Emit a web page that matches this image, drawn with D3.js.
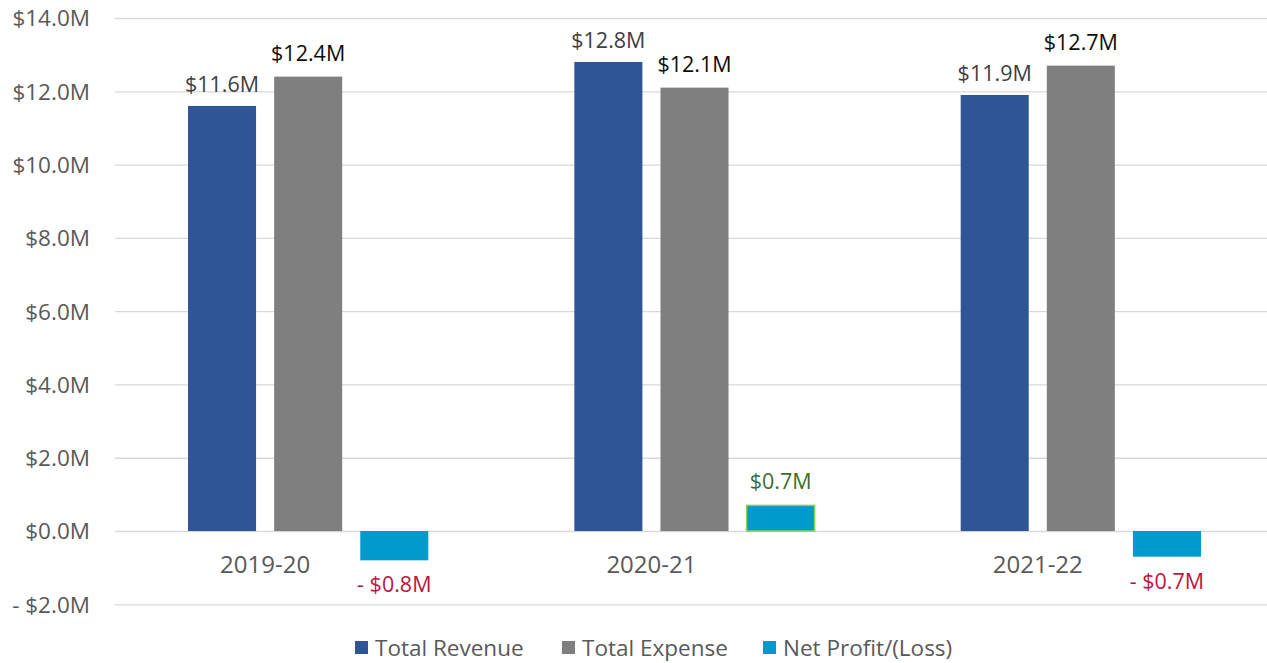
<!DOCTYPE html>
<html>
<head>
<meta charset="utf-8">
<script src="https://cdn.jsdelivr.net/npm/d3@7"></script>
<style>
  body { margin: 0; background: #fff; }
  svg, svg text { font-family: "Open Sans", sans-serif; }
  svg { display: block; }
</style>
</head>
<body>
<div id="graph"></div>
<script>
// Data
let years = ["2019-20", "2020-21", "2021-22"];
let series = ["Total Revenue", "Total Expense", "Net Profit/(Loss)"];
let revenue = [11.6, 12.8, 11.9];
let expense = [12.4, 12.1, 12.7];
let net_profit = [-0.8, 0.7, -0.7];
let y_ticks = [-2, 0, 2, 4, 6, 8, 10, 12, 14];

let series_colors = ["#2F5597", "#7F7F7F", "#009BCC"];

let width = 1267;
let height = 663;

let rows = [];
years.forEach(function (yr, i) {
    rows.push({ year: yr, key: series[0], value: revenue[i] });
    rows.push({ year: yr, key: series[1], value: expense[i] });
    rows.push({ year: yr, key: series[2], value: net_profit[i] });
});

let fmt = function (v) {
    let s = "$" + Math.abs(v).toFixed(1) + "M";
    return v < 0 ? "- " + s : s;
};

let xscale = d3.scaleBand()
               .domain(years)
               .range([115, 1274])
               .paddingInner(0.378)
               .paddingOuter(0.189);

let xinner = d3.scaleBand()
               .domain(series)
               .range([0, xscale.bandwidth()])
               .paddingInner(0.21)
               .paddingOuter(0);

let yscale = d3.scaleLinear()
               .domain([-2, 14])
               .range([604.3, 18]);

let color = d3.scaleOrdinal().domain(series).range(series_colors);

let chart = d3.select("#graph")
              .append("svg")
                .attr("width", width)
                .attr("height", height);

// Gridlines + tick labels
let y_axis = d3.axisLeft(yscale)
               .tickValues(y_ticks)
               .tickSize(-(width - 115))
               .tickFormat(fmt);

let gy = chart.append("g")
              .attr("transform", "translate(115,0)")
              .call(y_axis)
              .attr("font-family", null)
              .attr("font-size", null);
gy.select(".domain").remove();
gy.selectAll(".tick line").attr("stroke", "#d9d9d9").attr("stroke-width", 1.3);
gy.selectAll(".tick text")
  .attr("x", -25)
  .attr("dy", "0.35em")
  .attr("fill", "#595959")
  .style("font-size", "22.5px");

// Bars
let groups = chart.selectAll("g.year")
                  .data(years)
                  .enter()
                  .append("g")
                  .attr("class", "year")
                  .attr("transform", function (d) { return "translate(" + xscale(d) + ",0)"; });

groups.selectAll("rect")
      .data(function (d) { return rows.filter(function (r) { return r.year === d; }); })
      .enter()
      .append("rect")
      .attr("x", function (d) { return xinner(d.key); })
      .attr("y", function (d) { return yscale(Math.max(0, d.value)); })
      .attr("width", xinner.bandwidth())
      .attr("height", function (d) { return Math.abs(yscale(d.value) - yscale(0)); })
      .attr("fill", function (d) { return color(d.key); })
      .attr("stroke", function (d) {
          return (d.key === series[2] && d.value > 0) ? "#92D050" : "none";
      })
      .attr("stroke-width", 1.5);

// Value labels
groups.selectAll("text.val")
      .data(function (d) { return rows.filter(function (r) { return r.year === d; }); })
      .enter()
      .append("text")
      .attr("class", "val")
      .attr("text-anchor", "middle")
      .attr("x", function (d) { return xinner(d.key) + xinner.bandwidth() / 2; })
      .attr("y", function (d) {
          if (d.value < 0) return yscale(d.value) + 32;
          return yscale(d.value) - (d.key === series[0] ? 14 : 16);
      })
      .attr("fill", function (d) {
          if (d.key === series[0]) return "#404040";
          if (d.key === series[1]) return "#0d0d0d";
          return d.value < 0 ? "#C0143C" : "#3B6E2F";
      })
      .style("font-size", "21.5px")
      .text(function (d) { return fmt(d.value); });

// Category labels (centred under revenue + expense pair)
chart.selectAll("text.cat")
     .data(years)
     .enter()
     .append("text")
     .attr("class", "cat")
     .attr("text-anchor", "middle")
     .attr("x", function (d) {
         return xscale(d) + (xinner(series[0]) + xinner(series[1]) + xinner.bandwidth()) / 2;
     })
     .attr("y", yscale(0) + 42)
     .attr("fill", "#595959")
     .style("font-size", "24px")
     .text(function (d) { return d; });

// Legend
let legend_x = [355, 562, 763];
let legend = chart.selectAll("g.legend")
                  .data(series)
                  .enter()
                  .append("g")
                  .attr("class", "legend")
                  .attr("transform", function (d, i) { return "translate(" + legend_x[i] + ",648)"; });

legend.append("rect")
      .attr("x", 0)
      .attr("y", -7)
      .attr("width", 13)
      .attr("height", 13)
      .attr("fill", function (d) { return color(d); });

legend.append("text")
      .attr("x", 20)
      .attr("dy", "0.35em")
      .attr("fill", "#595959")
      .style("font-size", "22.5px")
      .text(function (d) { return d; });
</script>
</body>
</html>
